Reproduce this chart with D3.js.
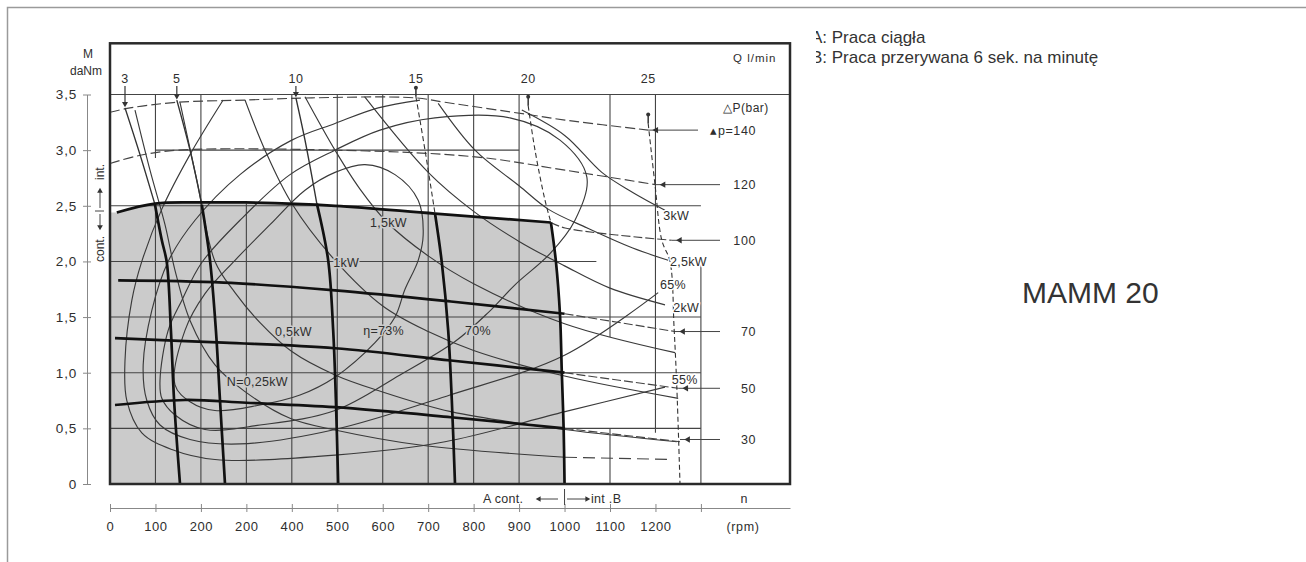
<!DOCTYPE html>
<html>
<head>
<meta charset="utf-8">
<script src="https://cdnjs.cloudflare.com/ajax/libs/d3/7.8.5/d3.min.js"></script>
<style>
  body { margin: 0; background: #fff; }
  svg text { font-family: "Liberation Sans", Arial, sans-serif; fill: #2e2e2e; }
</style>
</head>
<body>
<svg id="chart" width="1306" height="562"></svg>
<script>
// axis ticks
const rpmTicks = [0, 100, 200, 300, 400, 500, 600, 700, 800, 900, 1000, 1100, 1200, 1300];
const rpmTickLabels = ["0", "100", "200", "200", "400", "500", "600", "700", "800", "900", "1000", "1100", "1200", ""];
const torqueTicks = [0, 0.5, 1, 1.5, 2, 2.5, 3, 3.5];
const torqueTickLabels = ["0", "0,5", "1,0", "1,5", "2,0", "2,5", "3,0", "3,5"];

// grid segments [rpm, M from, M to] and [M, rpm from, rpm to]
const gridV = [[100, 0, 2.52], [100, 2.93, 3.5], [200, 0, 3.5], [300, 0, 2.52], [400, 0, 3.5], [500, 0, 3.5],
  [600, 0, 3.5], [700, 0, 3.5], [800, 0, 3.5], [900, 0, 3.5], [1100, 0, 0.5], [1100, 1.32, 3.5], [1200, 0.46, 3.5], [1300, 0, 2.0]];
const gridH = [[0.5, 0, 1300], [1, 0, 1300], [1.5, 0, 1300], [2, 0, 1070], [2.5, 0, 1300], [3, 100, 900], [3.5, 0, 1496]];

// flow lines Q (l/min): [rpm, M daNm]
const flowLabels = ["3", "5", "10", "15", "20", "25"];
const flowUpper = [
  [[33, 3.38], [66, 2.96], [99, 2.51]],
  [[147, 3.45], [176, 3.0], [202, 2.51]],
  [[409, 3.47], [429, 3.09], [455, 2.52]],
  [[673, 3.48], [693, 3.0], [715, 2.43]],
  [[920, 3.40], [935, 3.0], [957, 2.55], [970, 2.35]],
  [[1184, 3.24], [1199, 2.69], [1214, 2.19], [1232, 2.0], [1241, 1.4], [1247, 0.87], [1254, 0]]
];
const flowCont = [
  [[99, 2.51], [114, 2.19], [125, 1.99], [134, 1.38], [141, 0.75], [154, 0]],
  [[202, 2.51], [220, 2.01], [233, 1.38], [242, 0.75], [253, 0]],
  [[455, 2.52], [480, 2.01], [491, 1.38], [497, 0.75], [502, 0]],
  [[715, 2.43], [730, 1.99], [744, 1.38], [752, 0.75], [759, 0]],
  [[970, 2.35], [981, 2.0], [990, 1.52], [994, 1.0], [998, 0.5], [1000, 0]],
  []
];

// pressure lines dP (bar)
const dpLabels = ["▴p=140", "120", "100", "70", "50", "30"];
const dpLeaderM = [3.18, 2.69, 2.19, 1.37, 0.86, 0.40];
const dpLeaderRpm = [1184, 1200, 1236, 1243, 1250, 1254];
const dp140 = [[0, 3.34], [44, 3.38], [147, 3.43], [297, 3.45], [444, 3.47], [671, 3.47], [737, 3.43], [920, 3.32], [1001, 3.27], [1184, 3.18]];
const dp120 = [[0, 2.88], [62, 2.95], [150, 3.0], [495, 3.0], [803, 2.94], [1001, 2.82], [1200, 2.69]];
const dp100 = [[15, 2.44], [99, 2.52], [202, 2.53], [297, 2.53], [495, 2.5], [715, 2.43], [970, 2.35]];
const dp70 = [[18, 1.83], [250, 1.81], [495, 1.74], [750, 1.64], [1000, 1.53]];
const dp50 = [[11, 1.31], [250, 1.27], [495, 1.22], [750, 1.11], [1000, 1.0]];
const dp30 = [[11, 0.71], [165, 0.755], [300, 0.73], [495, 0.69], [750, 0.6], [1000, 0.5]];
const dpTails = [
  [[970, 2.35], [1001, 2.3], [1236, 2.19]],
  [[1000, 1.53], [1243, 1.37]],
  [[1000, 1.0], [1250, 0.86]],
  [[1000, 0.5], [1254, 0.38]]
];

// power lines N (kW)
const powerLabels = ["N=0,25kW", "0,5kW", "1kW", "1,5kW", "2kW", "2,5kW", "3kW"];
const powerLabelAt = [[257, 0.88], [363, 1.33], [491, 1.95], [572, 2.31], [1239, 1.545], [1232, 1.96], [1217, 2.37]];
const pow025 = [[55, 3.36], [88, 2.82], [121, 2.33], [143, 1.92], [176, 1.47], [231, 1.07], [297, 0.83], [396, 0.59], [495, 0.485], [682, 0.35], [1001, 0.24]];
const pow025Tail = [[1001, 0.24], [1236, 0.22]];
const pow05 = [[154, 3.43], [191, 2.73], [231, 2.0], [275, 1.72], [330, 1.45], [400, 1.19], [495, 0.98], [590, 0.84], [750, 0.65], [1001, 0.49], [1247, 0.38]];
const pow1 = [[297, 3.45], [341, 3.0], [400, 2.52], [495, 2.01], [600, 1.6], [700, 1.37], [800, 1.2], [1000, 0.97], [1250, 0.77]];
const pow15 = [[429, 3.48], [495, 3.0], [550, 2.65], [610, 2.35], [700, 2.05], [800, 1.8], [1000, 1.44], [1243, 1.18]];
const pow2 = [[560, 3.48], [700, 2.8], [800, 2.45], [900, 2.18], [1000, 1.96], [1100, 1.76], [1221, 1.61]];
const pow25 = [[722, 3.42], [803, 3.0], [900, 2.68], [964, 2.47], [1050, 2.3], [1150, 2.12], [1228, 2.01]];
const pow3 = [[906, 3.36], [1001, 3.13], [1082, 2.8], [1150, 2.62], [1221, 2.46]];

// efficiency lines
const effLabels = ["η=73%", "70%", "65%", "55%"];
const effLabelAt = [[557, 1.34], [781, 1.34], [1210, 1.75], [1236, 0.9]];
const eff55 = [[249, 3.45], [176, 2.96], [114, 2.47], [70, 2.0], [48, 1.65], [33, 1.11], [37, 0.75], [70, 0.46], [136, 0.31], [231, 0.22], [495, 0.26], [737, 0.38], [1001, 0.65], [1221, 0.87]];
const eff65 = [[682, 3.45], [590, 3.38], [495, 3.24], [400, 3.09], [286, 2.78], [187, 2.37], [128, 2.0], [92, 1.56], [73, 1.07], [81, 0.75], [110, 0.53], [176, 0.40], [286, 0.36], [495, 0.49], [748, 0.80], [1001, 1.16], [1206, 1.72]];
const eff70 = [[110, 0.93], [128, 1.38], [158, 1.65], [202, 1.99], [286, 2.37], [396, 2.78], [495, 3.0], [594, 3.18], [715, 3.29], [880, 3.29], [990, 3.09], [1049, 2.76], [1023, 2.37], [968, 2.07], [891, 1.79], [832, 1.54], [759, 1.28], [638, 0.98], [495, 0.66], [330, 0.53], [209, 0.49], [143, 0.62], [114, 0.77]];
const eff73 = [[143, 0.89], [165, 1.38], [209, 1.71], [275, 2.01], [352, 2.33], [429, 2.64], [495, 2.80], [561, 2.87], [627, 2.78], [678, 2.55], [689, 2.24], [678, 2.01], [649, 1.75], [627, 1.50], [583, 1.27], [495, 0.96], [418, 0.80], [330, 0.71], [231, 0.66], [176, 0.74]];

const legendLines = ["A: Praca ciągła", "B: Praca przerywana 6 sek. na minutę"];
const title = "MAMM 20";

const svg = d3.select("#chart");
const x = d3.scaleLinear().domain([0, 1496]).range([110, 790]);
const y = d3.scaleLinear().domain([0, 3.5]).range([484, 94.5]);
const topM = 3.96;

const smooth = d3.line().x(d => x(d[0])).y(d => y(d[1])).curve(d3.curveCatmullRom.alpha(0.5));
const loop = d3.line().x(d => x(d[0])).y(d => y(d[1])).curve(d3.curveCatmullRomClosed.alpha(0.5));

const defs = svg.append("defs");
defs.append("clipPath").attr("id", "plotClip").append("rect")
  .attr("x", x(0)).attr("y", y(topM)).attr("width", x(1496) - x(0)).attr("height", y(0) - y(topM));
defs.append("clipPath").attr("id", "legendClip").append("rect")
  .attr("x", 816).attr("y", 0).attr("width", 490).attr("height", 120);

// page border
svg.append("path").attr("d", "M7.5,562V7.5H1306")
  .attr("fill", "none").attr("stroke", "#9a9a9a").attr("stroke-width", 1.5);

// legend + title
const legend = svg.append("g").attr("clip-path", "url(#legendClip)");
legendLines.forEach((t, i) => {
  legend.append("text").attr("x", 811).attr("y", 43 + i * 19.5)
    .attr("font-size", 17).style("fill", "#333").text(t);
});
svg.append("text").attr("x", 1022).attr("y", 303).attr("font-size", 30).style("fill", "#333").text(title);

// plot
const plot = svg.append("g").attr("clip-path", "url(#plotClip)");
plot.append("rect").attr("x", x(0)).attr("y", y(topM))
  .attr("width", x(1496) - x(0)).attr("height", y(0) - y(topM)).attr("fill", "#fff");

const shade = [[0, 0], [0, 2.44]].concat(dp100, flowCont[4].slice(1));
plot.append("path").attr("d", d3.line().x(d => x(d[0])).y(d => y(d[1])).curve(d3.curveLinear)(shade) + "Z")
  .attr("fill", "#cbcbcb").attr("stroke", "none");

// grid
plot.selectAll(".gv").data(gridV).join("line")
  .attr("x1", d => x(d[0])).attr("x2", d => x(d[0]))
  .attr("y1", d => y(d[1])).attr("y2", d => y(d[2]))
  .attr("stroke", "#444").attr("stroke-width", 1.1);
plot.selectAll(".gh").data(gridH).join("line")
  .attr("x1", d => x(d[1])).attr("x2", d => x(d[2]))
  .attr("y1", d => y(d[0])).attr("y2", d => y(d[0]))
  .attr("stroke", "#444").attr("stroke-width", 1.1);

function curve(pts, opts) {
  const o = Object.assign({ w: 1.15, c: "#3a3a3a", dash: null, closed: false }, opts || {});
  plot.append("path").attr("d", (o.closed ? loop : smooth)(pts))
    .attr("fill", "none").attr("stroke", o.c).attr("stroke-width", o.w)
    .attr("stroke-dasharray", o.dash).attr("stroke-linejoin", "round");
}

// thin curves
[eff55, eff65].forEach(p => curve(p));
[eff70, eff73].forEach(p => curve(p, { closed: true }));
[pow025, pow05, pow1, pow15, pow2, pow25, pow3].forEach(p => curve(p));
curve(pow025Tail, { c: "#444", dash: "12,6" });
curve(dp140, { c: "#444", dash: "10,4" });
curve(dp120, { c: "#444", dash: "10,4" });
dpTails.forEach(p => curve(p, { c: "#444", dash: "9,3" }));
flowUpper.forEach((p, i) => curve(p, { c: "#333", w: i < 3 ? 1.4 : 1.1, dash: i < 3 ? null : "5,3" }));

// thick curves
[dp100, dp70, dp50, dp30].forEach(p => curve(p, { c: "#111", w: 2.7 }));
flowCont.forEach(p => { if (p.length) curve(p, { c: "#111", w: 2.7 }); });

// frame
svg.append("rect").attr("x", x(0)).attr("y", y(topM))
  .attr("width", x(1496) - x(0)).attr("height", y(0) - y(topM))
  .attr("fill", "none").attr("stroke", "#2a2a2a").attr("stroke-width", 2.5);

function arrowHead(px, py, angle, size) {
  svg.append("path").attr("d", d3.symbol(d3.symbolTriangle, size)())
    .attr("transform", `translate(${px},${py}) rotate(${angle})`).attr("fill", "#333");
}

// dP leaders and labels
dpLabels.forEach((t, i) => {
  const x0 = x(dpLeaderRpm[i]), yy = y(dpLeaderM[i]);
  const x1 = i === 0 ? 698 : 720;
  svg.append("line").attr("x1", x0).attr("x2", x1).attr("y1", yy).attr("y2", yy)
    .attr("stroke", "#444").attr("stroke-width", 1);
  arrowHead(x0 + 8, yy, -90, 18);
  svg.append("text").attr("x", 756).attr("y", yy + 4.5).attr("text-anchor", "end")
    .attr("font-size", 12.5).attr("letter-spacing", 0.6).text(t);
});
svg.append("text").attr("x", 723).attr("y", 112).attr("font-size", 12).attr("letter-spacing", 0.5).text("△P(bar)");
svg.append("text").attr("x", 733).attr("y", 62).attr("font-size", 11.5).attr("letter-spacing", 1).text("Q  l/min");

// Q labels + markers
flowLabels.forEach((t, i) => {
  const top = flowUpper[i][0];
  const px = x(top[0]), py = y(top[1]);
  svg.append("text").attr("x", px).attr("y", 83).attr("text-anchor", "middle")
    .attr("font-size", 12.5).attr("letter-spacing", 0.5).text(t);
  if (i < 3) {
    svg.append("line").attr("x1", px).attr("x2", px).attr("y1", 86).attr("y2", py - 3)
      .attr("stroke", "#333").attr("stroke-width", 1.2);
    arrowHead(px, py - 4, 180, 16);
  } else {
    svg.append("line").attr("x1", px).attr("x2", px).attr("y1", py - 9).attr("y2", py)
      .attr("stroke", "#333").attr("stroke-width", 1.5);
    svg.append("circle").attr("cx", px).attr("cy", py - 9).attr("r", 2).attr("fill", "#333");
  }
});

// in-plot labels with halo
function label(t, at) {
  const inShade = at[0] < 960 && at[1] < 2.35;
  svg.append("text").attr("x", x(at[0])).attr("y", y(at[1]))
    .attr("font-size", 12.5).attr("letter-spacing", 0.3)
    .style("paint-order", "stroke").style("stroke", inShade ? "#cbcbcb" : "#fff")
    .style("stroke-width", 3).style("stroke-linejoin", "round").text(t);
}
powerLabels.forEach((t, i) => label(t, powerLabelAt[i]));
effLabels.forEach((t, i) => label(t, effLabelAt[i]));

// y axis
const yAxis = svg.append("g").attr("transform", "translate(87,0)")
  .call(d3.axisLeft(y).tickValues(torqueTicks).tickFormat((d, i) => torqueTickLabels[i])
    .tickSizeInner(4).tickSizeOuter(0).tickPadding(6));
yAxis.select(".domain").attr("stroke", "#888");
yAxis.selectAll(".tick line").attr("stroke", "#888");
yAxis.selectAll(".tick").append("line").attr("x2", 4).attr("stroke", "#888");
yAxis.selectAll(".tick text").attr("font-size", 13.5).attr("letter-spacing", 0.8)
  .style("font-family", "'Liberation Sans', Arial, sans-serif").style("fill", "#2e2e2e");
svg.append("text").attr("x", 88).attr("y", 58).attr("text-anchor", "middle").attr("font-size", 12).text("M");
svg.append("text").attr("x", 86).attr("y", 75).attr("text-anchor", "middle").attr("font-size", 12).text("daNm");

// int. / cont. markers
svg.append("text").attr("transform", `translate(104,${172}) rotate(-90)`).attr("text-anchor", "middle")
  .attr("font-size", 12).text("int.");
svg.append("text").attr("transform", `translate(104,${249}) rotate(-90)`).attr("text-anchor", "middle")
  .attr("font-size", 12).text("cont.");
svg.append("line").attr("x1", 100).attr("x2", 100).attr("y1", 208).attr("y2", 192).attr("stroke", "#444");
arrowHead(100, 191, 0, 14);
svg.append("line").attr("x1", 100).attr("x2", 100).attr("y1", 214).attr("y2", 226).attr("stroke", "#444");
arrowHead(100, 227, 180, 14);
svg.append("line").attr("x1", 95).attr("x2", 104).attr("y1", 211).attr("y2", 211).attr("stroke", "#444");

// x axis
const xAxis = svg.append("g").attr("transform", "translate(0,508)")
  .call(d3.axisBottom(x).tickValues(rpmTicks).tickFormat((d, i) => rpmTickLabels[i])
    .tickSizeInner(4).tickSizeOuter(0).tickPadding(10));
xAxis.select(".domain").attr("stroke", "#888");
xAxis.selectAll(".tick line").attr("stroke", "#888").attr("y1", -4);
xAxis.selectAll(".tick text").attr("font-size", 13).attr("letter-spacing", 0.6)
  .style("font-family", "'Liberation Sans', Arial, sans-serif").style("fill", "#2e2e2e");
svg.append("text").attr("x", 743).attr("y", 531).attr("text-anchor", "middle").attr("font-size", 12.5).attr("letter-spacing", 0.6).text("(rpm)");
svg.append("text").attr("x", 744).attr("y", 503).attr("text-anchor", "middle").attr("font-size", 12.5).text("n");

// A cont. / int. B
svg.append("text").attr("x", 483).attr("y", 503).attr("font-size", 12.5).attr("letter-spacing", 0.3).text("A cont.");
svg.append("line").attr("x1", 538).attr("x2", 558).attr("y1", 499).attr("y2", 499).attr("stroke", "#444");
arrowHead(539, 499, -90, 14);
svg.append("line").attr("x1", x(1000)).attr("x2", x(1000)).attr("y1", 489).attr("y2", 505).attr("stroke", "#444");
svg.append("line").attr("x1", 567).attr("x2", 587).attr("y1", 499).attr("y2", 499).attr("stroke", "#444");
arrowHead(587, 499, 90, 14);
svg.append("text").attr("x", 591).attr("y", 503).attr("font-size", 12.5).attr("letter-spacing", 0.3).text("int .B");
</script>
</body>
</html>
